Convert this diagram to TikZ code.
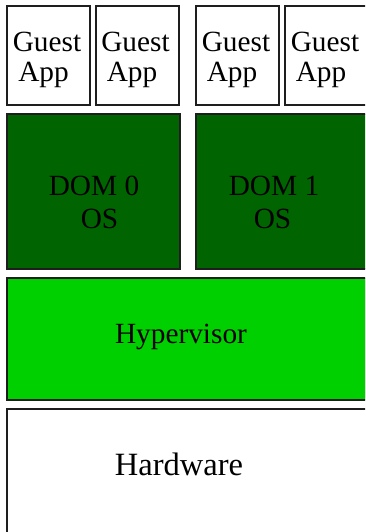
\documentclass[tikz,border=0pt]{standalone}
\usepackage{fontspec}
\setmainfont{Liberation Serif}
\definecolor{domgreen}{RGB}{0,100,0}
\definecolor{hypgreen}{RGB}{0,208,0}
\definecolor{edge}{RGB}{30,30,30}
\begin{document}
\begin{tikzpicture}[x=1pt,y=-1pt,
  layer/.style={draw=edge,line width=1.3pt,inner sep=0pt,outer sep=0pt,anchor=north west},
  txt/.style={anchor=base,inner sep=0pt,font=\fontsize{29.3}{30}\selectfont},
  bigtxt/.style={anchor=base,inner sep=0pt,font=\fontsize{32.5}{34}\selectfont}]
\useasboundingbox (0,0) rectangle (365,532);
\begin{scope}
\clip (0,0) rectangle (365,532);
% guest app boxes
\node[layer,fill=white,minimum width=83pt,minimum height=99pt] (g1) at (7,6) {};
\node[layer,fill=white,minimum width=83pt,minimum height=99pt] (g2) at (96,6) {};
\node[layer,fill=white,minimum width=83pt,minimum height=99pt] (g3) at (196,6) {};
\node[layer,fill=white,minimum width=83pt,minimum height=99pt] (g4) at (285,6) {};
% OS boxes
\node[layer,fill=domgreen,minimum width=173pt,minimum height=155pt] (d0) at (7,114) {};
\node[layer,fill=domgreen,minimum width=180pt,minimum height=155pt] (d1) at (196,114) {};
% hypervisor and hardware
\node[layer,fill=hypgreen,minimum width=380pt,minimum height=122pt] (hyp) at (7,278) {};
\node[layer,fill=white,minimum width=380pt,minimum height=135pt] (hw) at (7,409) {};
\end{scope}
% labels
\node[txt] (g1a) at (47,52) {Guest};
\node[txt] (g1b) at (43.5,82) {App};
\node[txt] (g2a) at (135.5,52) {Guest};
\node[txt] (g2b) at (132,82) {App};
\node[txt] (g3a) at (236,52) {Guest};
\node[txt] (g3b) at (232,82) {App};
\node[txt] (g4a) at (325,52) {Guest};
\node[txt] (g4b) at (321,82) {App};
\node[txt] (d0a) at (94,195) {DOM 0};
\node[txt] (d0b) at (99.5,228) {OS};
\node[txt] (d1a) at (274,195) {DOM 1};
\node[txt] (d1b) at (272.5,228) {OS};
\node[txt] (hypt) at (181,343) {Hypervisor};
\node[bigtxt] (hwt) at (179,475) {Hardware};
\end{tikzpicture}
\end{document}
